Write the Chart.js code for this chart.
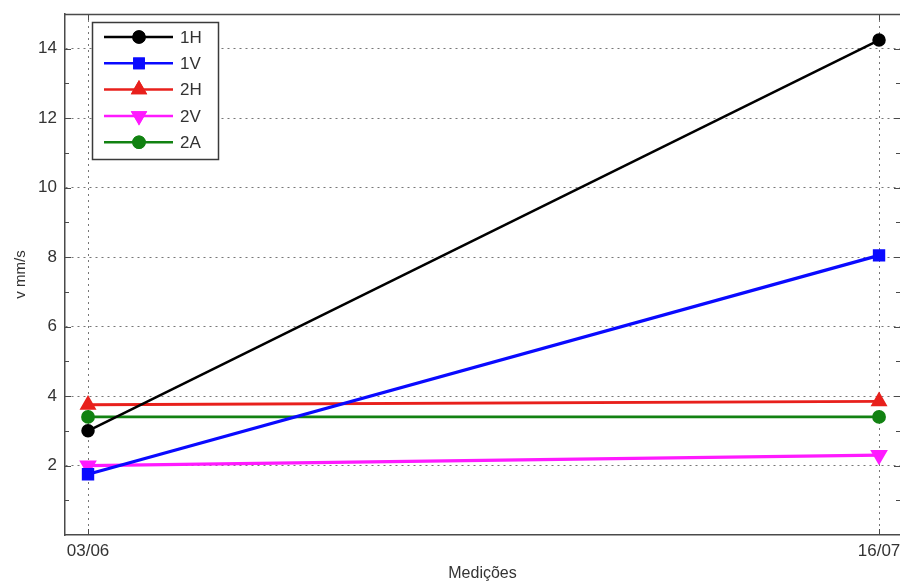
<!DOCTYPE html>
<html>
<head>
<meta charset="utf-8">
<script src="https://cdn.jsdelivr.net/npm/chart.js@4"></script>
<style>
  html, body { margin: 0; padding: 0; background: #ffffff; overflow: hidden; }
  canvas { display: block; }
</style>
</head>
<body>
<canvas id="c" width="900" height="583"></canvas>
<script>
// Measurement dates and readings (mm/s) for each sensor position
const categories = ['03/06', '16/07'];
const s1H = [3.0, 14.25];
const s1V = [1.75, 8.05];
const s2H = [3.75, 3.85];
const s2V = [2.0, 2.3];
const s2A = [3.4, 3.4];
const yTicks = [2, 4, 6, 8, 10, 12, 14];
const yMinor = [1, 3, 5, 7, 9, 11, 13];

const toPoints = arr => arr.map((v, i) => ({ x: i, y: v }));

const AXIS = '#4a4a4a';
const GRID = '#777777';
const FONT = '"Liberation Sans Narrow", "Liberation Sans", Arial, sans-serif';

// Frame, inward tick marks and the in-plot legend box
const framePlugin = {
  id: 'frame',
  afterDraw(chart) {
    const { ctx, chartArea: a, scales } = chart;
    const y = scales.y, x = scales.x;
    ctx.save();
    ctx.strokeStyle = AXIS;
    ctx.lineWidth = 1.5;
    // top edge
    ctx.beginPath();
    ctx.moveTo(a.left, a.top + 0.5);
    ctx.lineTo(a.right, a.top + 0.5);
    ctx.stroke();
    ctx.lineWidth = 1;
    // y ticks, inward on both sides
    const tick = (v, len) => {
      const py = Math.round(y.getPixelForValue(v)) + 0.5;
      ctx.beginPath();
      ctx.moveTo(a.left, py); ctx.lineTo(a.left + len, py);
      ctx.moveTo(a.right, py); ctx.lineTo(a.right - len, py);
      ctx.stroke();
    };
    yTicks.forEach(v => tick(v, 6));
    yMinor.forEach(v => tick(v, 4));
    // x ticks, inward at top and bottom
    categories.forEach((c, i) => {
      const px = Math.round(x.getPixelForValue(i)) + 0.5;
      ctx.beginPath();
      ctx.moveTo(px, a.bottom); ctx.lineTo(px, a.bottom - 6);
      ctx.moveTo(px, a.top); ctx.lineTo(px, a.top + 6);
      ctx.stroke();
    });

    // legend
    const bx = 92.5, by = 22.5, bw = 126, bh = 137;
    ctx.fillStyle = '#ffffff';
    ctx.fillRect(bx, by, bw, bh);
    ctx.strokeStyle = '#3a3a3a';
    ctx.lineWidth = 1.5;
    ctx.strokeRect(bx, by, bw, bh);
    ctx.font = '17px ' + FONT;
    ctx.textBaseline = 'middle';
    chart.data.datasets.forEach((ds, i) => {
      const ry = 37 + i * 26.3;
      ctx.strokeStyle = ds.borderColor;
      ctx.lineWidth = 2.5;
      ctx.beginPath();
      ctx.moveTo(104, ry); ctx.lineTo(173, ry);
      ctx.stroke();
      Chart.helpers.drawPoint(ctx, {
        pointStyle: ds.pointStyle,
        rotation: ds.pointRotation || 0,
        radius: ds.pointRadius,
        borderWidth: 1
      }, 139, ry);
      ctx.fillStyle = ds.pointBackgroundColor;
      ctx.strokeStyle = ds.borderColor;
      ctx.fill();
      ctx.stroke();
      ctx.fillStyle = '#333333';
      ctx.fillText(ds.label, 180, ry + 1);
    });
    ctx.restore();
  }
};

function series(label, data, color, style, radius, width, rot) {
  return {
    label,
    data: toPoints(data),
    borderColor: color,
    backgroundColor: color,
    pointBackgroundColor: color,
    pointBorderColor: color,
    pointStyle: style,
    pointRotation: rot || 0,
    pointRadius: radius,
    pointHoverRadius: radius,
    borderWidth: width,
    tension: 0
  };
}

new Chart(document.getElementById('c'), {
  type: 'line',
  data: {
    datasets: [
      series('1H', s1H, '#000000', 'circle', 5.5, 2.5),
      series('1V', s1V, '#0a0aff', 'rect', 6.5, 3.2),
      series('2H', s2H, '#e8201c', 'triangle', 7, 2.8),
      series('2V', s2V, '#ff1aff', 'triangle', 7, 3.2, 180),
      series('2A', s2A, '#128212', 'circle', 5.5, 2.8)
    ]
  },
  options: {
    responsive: false,
    animation: false,
    events: [],
    layout: { autoPadding: false, padding: { top: 14, left: 0, right: 0, bottom: 0 } },
    plugins: { legend: { display: false }, tooltip: { enabled: false } },
    scales: {
      x: {
        type: 'linear',
        min: -0.0291,
        max: 1.0265,
        afterFit(s) { s.height = 48; s.paddingLeft = 0; s.paddingRight = 0; },
        afterBuildTicks(s) { s.ticks = categories.map((c, i) => ({ value: i })); },
        ticks: {
          callback: (v) => categories[v] ?? '',
          color: '#333333',
          font: { family: FONT, size: 17 },
          padding: 6,
          maxRotation: 0
        },
        grid: { drawTicks: false, color: GRID, lineWidth: 1 },
        border: { display: true, color: AXIS, width: 1.5, dash: [2, 4] },
        title: {
          display: true,
          text: 'Medições',
          color: '#333333',
          font: { family: FONT, size: 16 },
          padding: { top: 1, bottom: 0 }
        }
      },
      y: {
        min: 0,
        max: 15,
        afterFit(s) { s.width = 65; s.paddingTop = 0; s.paddingBottom = 0; },
        afterBuildTicks(s) { s.ticks = yTicks.map(v => ({ value: v })); },
        ticks: {
          color: '#333333',
          font: { family: FONT, size: 17 },
          padding: 8
        },
        grid: { drawTicks: false, color: GRID, lineWidth: 1 },
        border: { display: true, color: AXIS, width: 1.5, dash: [2, 4] },
        title: {
          display: true,
          text: 'v mm/s',
          color: '#333333',
          font: { family: FONT, size: 15 },
          padding: { top: 12, bottom: 0 }
        }
      }
    }
  },
  plugins: [framePlugin]
});
</script>
</body>
</html>
